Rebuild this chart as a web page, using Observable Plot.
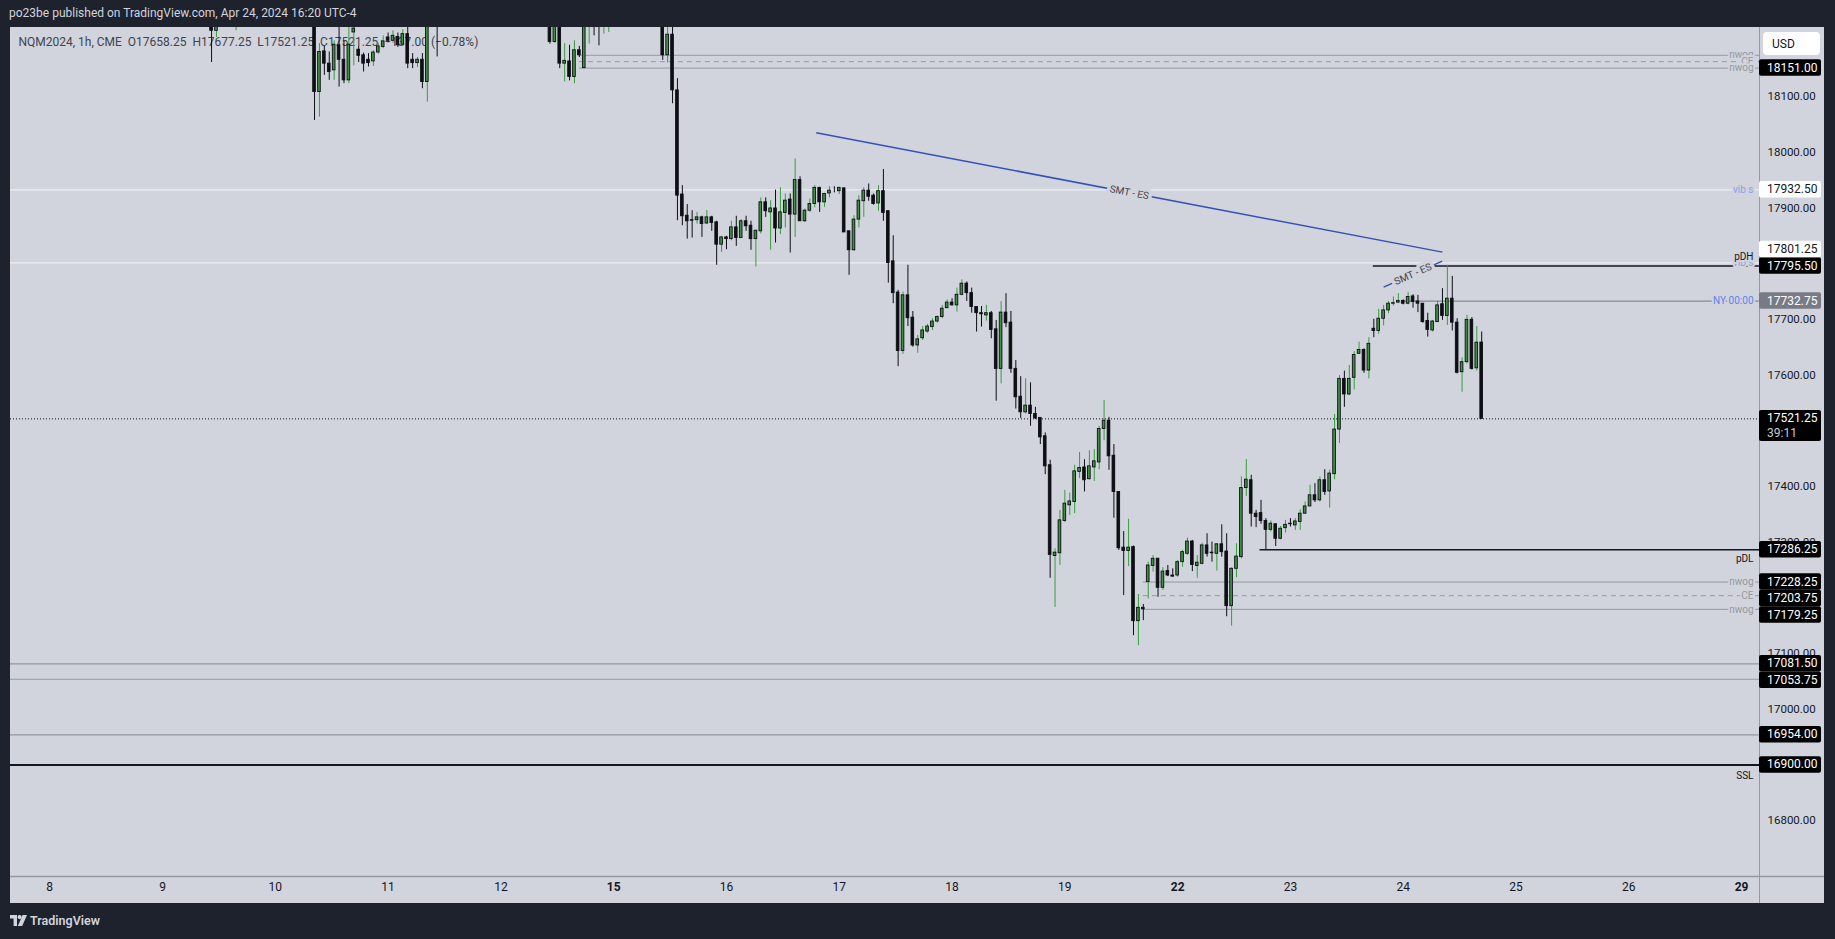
<!DOCTYPE html>
<html><head><meta charset="utf-8">
<script src="https://cdn.jsdelivr.net/npm/d3@7"></script>
<script src="https://cdn.jsdelivr.net/npm/@observablehq/plot@0.6"></script>
<style>
html,body{margin:0;padding:0;background:#1e222d;width:1835px;height:939px;overflow:hidden;font-family:Roboto,"Liberation Sans",sans-serif;}
#title{position:absolute;left:9px;top:6px;color:#d1d4dc;font-size:12px;white-space:nowrap;}
#panel{position:absolute;left:10px;top:27px;width:1814px;height:876px;background:#d1d4dc;}
#logo{position:absolute;left:10px;top:913px;color:#d1d4dc;font-size:12.5px;font-weight:600;display:flex;align-items:center;gap:3px;}
</style></head><body>
<div id="title">po23be published on TradingView.com, Apr 24, 2024 16:20 UTC-4</div>
<div id="panel"></div>
<div id="logo"><svg width="17" height="11" viewBox="0 0 17 11"><path d="M0 0h7v11h-3.4v-7.4h-3.6z" fill="#d1d4dc"/><circle cx="9.6" cy="2.1" r="2.1" fill="#d1d4dc"/><path d="M12.6 0h4.4l-4.8 11h-4.4z" fill="#d1d4dc"/></svg><span>TradingView</span></div>
<script>
// ---------- DATA ----------
const headerText = "NQM2024, 1h, CME  O17658.25  H17677.25  L17521.25  C17521.25  \u2212137.00 (\u22120.78%)";
const countdown = "39:11";
const dayLabels = ["8","9","10","11","12","15","16","17","18","19","22","23","24","25","26","29"];
const weekStartLabels = ["15","22","29"];
const barsPerDay = 23;
const priceTicks = [16800,16900,17000,17100,17200,17300,17400,17500,17600,17700,17800,17900,18000,18100,18200];

// hourly bars (index 0 = Apr 8 00:00); only bars visible in the window
const sparseBars = [33,34,38,54,55,56,57,58,59,60,61,62,63,64,65,66,67,68,69,70,71,72,73,74,75,76,77,79,
  102,103,104,105,106,107,108,109,110,111,112,113,114];
const sparseOpen  = [18250,18218,18245,18250,18108,18181,18159,18147,18192,18166,18129,18215,18184,18174,18166,18163,18179,18189,18206,18200,18207,18193,18212,18166,18160,18166,18126,18250,
  18240,18198,18240,18159,18163,18135,18183,18151,18240,18250,18245,18240,18250];
const sparseHigh  = [18265,18255,18262,18270,18195,18190,18180,18200,18230,18200,18226,18235,18190,18178,18177,18182,18195,18209,18214,18218,18214,18220,18224,18177,18170,18177,18260,18260,
  18255,18250,18250,18195,18192,18200,18190,18250,18260,18265,18260,18255,18265];
const sparseLow   = [18161,18206,18218,18057,18063,18138,18129,18129,18117,18123,18123,18155,18161,18144,18153,18154,18176,18186,18196,18196,18188,18190,18150,18150,18152,18114,18090,18171,
  18194,18195,18150,18126,18128,18123,18170,18150,18194,18209,18191,18212,18215];
const sparseClose = [18218,18238,18250,18108,18180,18159,18144,18193,18166,18129,18193,18222,18173,18159,18160,18179,18190,18199,18200,18209,18192,18212,18159,18160,18166,18126,18240,18235,
  18198,18235,18159,18164,18135,18183,18174,18240,18250,18245,18240,18250,18255];

const firstDenseBar = 125;
const denseOpen = [18240,18174,18211,18111,17924,17886,17878,17878,17883,17872,17883,17874,17834,17847,17844,17865,17846,17876,17868,17844,
  17858,17910,17892,17899,17863,17891,17915,17888,17950,17876,17895,17907,17936,17910,17926,17931,17930,17935,17858,17824,
  17879,17912,17931,17922,17908,17930,17894,17804,17748,17643,17743,17703,17653,17666,17678,17686,17696,17704,17720,17730,
  17725,17744,17764,17747,17722,17711,17707,17711,17682,17611,17712,17694,17611,17561,17533,17545,17530,17523,17490,17438,
  17275,17280,17338,17366,17372,17426,17434,17413,17434,17443,17503,17518,17455,17390,17290,17284,17291,17158,17182,17228.25,
  17257,17270,17218,17248,17240,17240,17264,17279,17301,17257,17261,17294,17281,17279,17296,17283,17185,17252,17273,17397,
  17411,17351,17352,17338,17322,17332,17306,17325,17333,17330,17336,17351,17364,17384,17375,17411,17391,17422,17502,17593,
  17565,17595,17638,17645,17608,17683,17679,17701,17716,17728,17730,17733,17728,17741,17732,17728,17697,17680,17695,17727,
  17706,17737,17694,17605,17623,17699,17612,17658.25];
const denseHigh = [18260,18235,18225,18132,17940,17906,17895,17892,17885,17895,17885,17876,17849,17849,17876,17885,17879,17885,17876,17860,
  17918,17918,17913,17932,17936,17925,17925,17988,17956,17898,17916,17940,17937,17926,17938,17938,17937,17936,17858,17886,
  17922,17936,17943,17925,17940,17969,17895,17850,17752,17749,17797,17714,17671,17687,17691,17701,17706,17725,17735,17737,
  17756,17771,17767,17756,17722,17723,17725,17714,17698,17732,17746,17714,17626,17597,17593,17586,17542,17523,17496,17447,
  17288,17357,17393,17388,17438,17461,17448,17464,17466,17508,17554,17524,17475,17390,17319,17341,17293,17206,17188,17264,
  17276,17271,17254,17258,17252,17267,17285,17307,17303,17276,17298,17315,17300,17297,17331,17315,17254,17297,17417,17448,
  17420,17357,17375,17342,17338,17333,17328,17339,17342,17342,17358,17372,17402,17405,17417,17430,17429,17529,17599,17607,
  17617,17642,17659,17647,17667,17700,17718,17725,17732,17740,17746,17735,17748,17744,17743,17728,17711,17698,17732,17755,
  17797,17777,17701,17631,17707,17703,17687,17677.25];
const denseLow = [18165,18160,18087,17877,17868,17844,17846,17871,17847,17870,17858,17797,17820,17825,17841,17831,17845,17858,17824,17794,
  17853,17883,17824,17837,17852,17864,17819,17847,17876,17874,17892,17900,17892,17901,17918,17927,17924,17856,17779,17822,
  17864,17883,17912,17905,17894,17876,17765,17728,17615,17637,17687,17650,17639,17662,17675,17680,17693,17701,17719,17724,
  17713,17742,17732,17711,17677,17686,17697,17665,17553,17584,17685,17603,17539,17522,17530,17508,17520,17475,17421,17235,
  17183,17258,17335,17348,17351,17414,17390,17411,17409,17430,17482,17429,17343,17285,17204,17256,17132,17114,17159,17198,
  17246,17201,17213,17238,17237,17237,17255,17276,17247,17235,17259,17273,17264,17248,17273,17166,17149,17236,17270,17382,
  17327,17326,17332,17286.25,17318,17292,17304,17316,17327,17321,17321,17350,17364,17371,17372,17384,17361,17412,17477,17542,
  17563,17573,17637,17603,17593,17667,17673,17688,17710,17724,17728,17726,17726,17720,17712,17693,17668,17677,17694,17698,
  17689,17679,17602,17569,17620,17609,17607,17521.25];
const denseClose = [18174,18211,18111,17922,17885,17876,17877,17883,17871,17883,17873,17834,17847,17844,17865,17846,17876,17867,17844,17859,
  17910,17894,17899,17863,17892,17913,17888,17950,17876,17895,17907,17936,17910,17925,17931,17931,17936,17856,17824,17879,
  17913,17931,17920,17907,17930,17891,17801,17747,17643,17743,17702,17653,17664,17680,17687,17696,17704,17719,17730,17725,
  17744,17764,17747,17722,17711,17709,17711,17681,17611,17712,17693,17611,17560,17533,17545,17530,17522,17488,17436,17277,
  17281,17339,17369,17373,17427,17433,17411,17436,17445,17503,17518,17454,17390,17289,17284,17290,17158,17182,17179.25,17258,
  17270,17218,17247,17240,17238,17264,17282,17301,17259,17263,17294,17279,17280,17296,17282,17185,17252,17274,17397,17412,
  17351,17345,17338,17322,17333,17306,17324,17331,17332,17337,17351,17364,17384,17375,17411,17390,17423,17502,17593,17565,
  17593,17636,17645,17608,17656,17679,17701,17716,17728,17729,17733,17728,17740,17731,17728,17695,17681,17696,17725,17706,
  17737,17694,17604,17623,17699,17611,17658,17521.25];

// horizontal levels
const levelPrice = [18174.00,18162.50,18151.00,17932.50,17801.25,17795.50,17732.75,17521.25,17286.25,17228.25,17203.75,17179.25,17081.50,17053.75,16954.00,16900.00];
const levelName  = ["nwog","CE","nwog","vib s","vib s","pDH","NY 00:00","","pDL","nwog","CE","nwog","","","","SSL"];
const levelKind  = ["nwog","ce","nwog","vib","vib","pdh","ny","last","pdl","nwog","ce","nwog","level","level","level","ssl"];
const levelFromBar = [108,108,108,null,null,269.9,276,null,246.8,223,223,223,null,null,null,null];
const levelOnAxis = [false,false,true,true,true,true,true,true,true,true,true,true,true,true,true,true];

// SMT divergence lines
const smtBars = [[156.3,284.0],[272.0,283.95]];
const smtPrices = [[18034.8,17820.6],[17757.7,17804.4]];
const smtText = "SMT - ES";

// ---------- BUILD ----------
const FONT = "Roboto, 'Liberation Sans', sans-serif";
const BG = "#d1d4dc";
const W = 1814, H = 876, MR = 65, MB = 27;
const xMin = -8, xMax = 348.65, yMin = 16699.6, yMax = 18223.9;

const candles = [];
sparseBars.forEach((t,i)=>candles.push({t,o:sparseOpen[i],h:sparseHigh[i],l:sparseLow[i],c:sparseClose[i]}));
denseOpen.forEach((o,i)=>candles.push({t:firstDenseBar+i,o,h:denseHigh[i],l:denseLow[i],c:denseClose[i]}));
const isUp = d => d.c > d.o;

const levels = levelPrice.map((p,i)=>({p,name:levelName[i],kind:levelKind[i],from:levelFromBar[i]==null?xMin:levelFromBar[i],axis:levelOnAxis[i]}));
const lineStyle = {
  nwog:{stroke:"#9598a1",w:1,dash:null},
  ce:{stroke:"#9598a1",w:1,dash:"5,4"},
  vib:{stroke:"#eceef3",w:1.2,dash:null},
  pdh:{stroke:"#131722",w:1.5,dash:null},
  ny:{stroke:"#868993",w:1.2,dash:null},
  last:{stroke:"#131722",w:1,dash:"1,2"},
  pdl:{stroke:"#131722",w:1.5,dash:null},
  level:{stroke:"#9598a1",w:1.2,dash:null},
  ssl:{stroke:"#131722",w:2,dash:null}
};
const labelStyle = {
  nwog:{fill:"#9598a1",dy:0}, ce:{fill:"#9598a1",dy:0}, vib:{fill:"#8aa2e4",dy:0},
  pdh:{fill:"#131722",dy:-9}, ny:{fill:"#5c83f2",dy:0}, pdl:{fill:"#131722",dy:9}, ssl:{fill:"#131722",dy:10.5}
};

// ---- price-axis label placement (uses Plot's own y scale) ----
const yScale = Plot.scale({y:{domain:[yMin,yMax],range:[H-MB,0]}});
const boxH = 16.5;
const axisLabels = levels.filter(l=>l.axis).map((l,i)=>({...l,prio:l.kind==="last"?0:l.kind==="pdh"?1:2,idx:i}))
  .sort((a,b)=>a.prio-b.prio||a.idx-b.idx);
const placed = [];
const overlaps = (top,h)=>placed.some(p=>top<p.top+p.h-0.01 && top+h>p.top+0.01);
axisLabels.forEach(l=>{
  const h = l.kind==="last"?31:boxH;
  const ideal = yScale.apply(l.p)-boxH/2;
  let top = ideal;
  if (overlaps(top,h)) {
    const cands = [];
    placed.forEach(p=>{cands.push(p.top+p.h); cands.push(p.top-h);});
    top = cands.filter(c=>!overlaps(c,h)).sort((a,b)=>Math.abs(a-ideal)-Math.abs(b-ideal))[0];
  }
  placed.push({top,h,l});
});
const usdBox = {top:5,h:23};
const covers = [...placed,usdBox];
const visibleTicks = priceTicks.filter(v=>{
  const y = yScale.apply(v);
  return !covers.some(b=>b.top<=y-5 && b.top+b.h>=y+5);
});

const pxPerBar = (W-MR)/(xMax-xMin), pxPerPt = (H-MB)/(yMax-yMin);
const smt = smtBars.map((b,i)=>{
  const p = smtPrices[i];
  const ang = Math.atan2(-(p[1]-p[0])*pxPerPt,(b[1]-b[0])*pxPerBar)*180/Math.PI;
  return {x1:b[0],x2:b[1],y1:p[0],y2:p[1],mx:(b[0]+b[1])/2,my:(p[0]+p[1])/2,ang};
});

const dayTicks = dayLabels.map((lab,k)=>({t:k*barsPerDay,lab,bold:weekStartLabels.includes(lab)}));

const marks = [];
marks.push(Plot.text([headerText],{text:d=>d,frameAnchor:"top-left",dx:8,dy:15,textAnchor:"start",lineAnchor:"middle",fill:"#3f4350",fontSize:12}));
levels.forEach(l=>{
  const s = lineStyle[l.kind];
  marks.push(Plot.ruleY([l.p],{y:d=>d,x1:l.from,x2:xMax,stroke:s.stroke,strokeWidth:s.w,strokeDasharray:s.dash||undefined,clip:true}));
});
smt.forEach(s=>{
  marks.push(Plot.link([s],{x1:"x1",y1:"y1",x2:"x2",y2:"y2",stroke:"#3451b8",strokeWidth:1.5}));
  marks.push(Plot.text([s],{x:"mx",y:"my",text:()=>smtText,rotate:s.ang,fill:"#434651",fontSize:10,stroke:BG,strokeWidth:7,paintOrder:"stroke"}));
});
levels.filter(l=>l.name).forEach(l=>{
  const s = labelStyle[l.kind];
  marks.push(Plot.text([l],{y:"p",text:"name",frameAnchor:"right",dx:-6,dy:s.dy,textAnchor:"end",fill:s.fill,fontSize:10,stroke:BG,strokeWidth:4,paintOrder:"stroke"}));
});
marks.push(Plot.ruleX(candles,{x:"t",y1:"l",y2:"h",stroke:d=>isUp(d)?"#3a9c3e":"#0d0f14",strokeWidth:1,clip:true}));
marks.push(Plot.rect(candles,{x1:d=>d.t-0.27,x2:d=>d.t+0.27,y1:"o",y2:"c",fill:d=>isUp(d)?"#3f9142":"#0d0f14",stroke:"#0d0f14",strokeWidth:0.9,clip:true}));
marks.push(Plot.text(visibleTicks,{y:d=>d,text:d=>d.toFixed(2),frameAnchor:"right",dx:8,textAnchor:"start",fill:"#131722",fontSize:11.5}));
marks.push(Plot.text(dayTicks.filter(d=>!d.bold),{x:"t",text:"lab",frameAnchor:"bottom",dy:14,fill:"#131722",fontSize:12}));
marks.push(Plot.text(dayTicks.filter(d=>d.bold),{x:"t",text:"lab",frameAnchor:"bottom",dy:14,fill:"#131722",fontSize:12,fontWeight:"bold"}));

const chart = Plot.plot({
  width:W,height:H,marginLeft:0,marginRight:MR,marginTop:0,marginBottom:MB,
  x:{type:"linear",domain:[xMin,xMax],axis:null},
  y:{domain:[yMin,yMax],axis:null},
  color:{type:"identity"},
  style:{background:"none",maxWidth:"none",fontFamily:FONT,overflow:"visible"},
  marks
});
document.getElementById("panel").appendChild(chart);

// ---------- axis separators and price-axis label boxes ----------
const svg = d3.select(chart);
const plotR = W-MR, plotB = H-MB;
svg.append("line").attr("x1",plotR+0.5).attr("x2",plotR+0.5).attr("y1",0).attr("y2",H).attr("stroke","#9598a1");
svg.append("line").attr("x1",0).attr("x2",W).attr("y1",plotB+0.5).attr("y2",plotB+0.5).attr("stroke","#9598a1").attr("stroke-width",1.5);

const g = svg.append("g").attr("font-family",FONT).attr("font-size",12).attr("text-anchor","start");
placed.forEach(({top,h,l})=>{
  const bg = l.kind==="vib"?"#ffffff":l.kind==="ny"?"#787b86":"#000000";
  const fg = l.kind==="vib"?"#131722":"#ffffff";
  g.append("rect").attr("x",plotR).attr("y",top).attr("width",62).attr("height",h).attr("rx",2).attr("fill",bg);
  g.append("text").attr("x",plotR+8).attr("y",top+boxH/2).attr("dominant-baseline","central").attr("fill",fg).text(l.p.toFixed(2));
  if (l.kind==="last") g.append("text").attr("x",plotR+8).attr("y",top+boxH/2+14.5).attr("dominant-baseline","central").attr("fill","#c9cbd1").text(countdown);
});
g.append("rect").attr("x",plotR+4).attr("y",usdBox.top).attr("width",57).attr("height",usdBox.h).attr("rx",4).attr("fill","#ffffff");
g.append("text").attr("x",plotR+13).attr("y",usdBox.top+usdBox.h/2).attr("dominant-baseline","central").attr("fill","#131722").text("USD");
</script>
</body></html>
